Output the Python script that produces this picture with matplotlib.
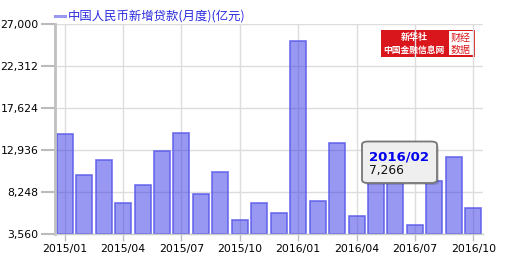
import matplotlib
matplotlib.use("Agg")
import matplotlib.pyplot as plt
from matplotlib.patches import FancyBboxPatch, Rectangle
import numpy as np

# 月度新增贷款 (亿元)
months = ["2015/01", "2015/02", "2015/03", "2015/04", "2015/05", "2015/06",
          "2015/07", "2015/08", "2015/09", "2015/10", "2015/11", "2015/12",
          "2016/01", "2016/02", "2016/03", "2016/04", "2016/05", "2016/06",
          "2016/07", "2016/08", "2016/09", "2016/10"]
values = [14708, 10200, 11800, 7079, 9008, 12800,
          14800, 8096, 10500, 5136, 7089, 5978,
          25100, 7266, 13700, 5556, 9855, 13800,
          4636, 9487, 12200, 6513]
y_ticks = [3560, 8248, 12936, 17624, 22312, 27000]
x_tick_labels = ["2015/01", "2015/04", "2015/07", "2015/10",
                 "2016/01", "2016/04", "2016/07", "2016/10"]
title = "中国人民币新增贷款(月度)(亿元)"
tip_month = "2016/02"

W, H = 506, 257
fig = plt.figure(figsize=(W / 100, H / 100), dpi=100)
fig.patch.set_facecolor("white")


def fx(x):
    return x / W


def fy(y):
    return 1 - y / H


ax = fig.add_axes([fx(55), fy(234.3), fx(483) - fx(55), fy(24) - fy(234.3)])
ymin, ymax = y_ticks[0], y_ticks[-1]
x = np.arange(len(months))
heights = [v - ymin for v in values]
ax.bar(x, heights, bottom=ymin, width=0.82, facecolor=(0.2, 0.2, 0.9, 0.5),
       edgecolor=(0.35, 0.35, 0.92, 0.85), linewidth=1.2, zorder=2)

ax.set_xlim(-0.5, len(months) - 0.5)
ax.set_ylim(ymin, ymax)
ax.set_yticks(y_ticks)
ax.set_yticklabels([f"{v:,}" for v in y_ticks], fontsize=7.8)
ax.set_xticks([months.index(m) for m in x_tick_labels])
ax.set_xticklabels(x_tick_labels, fontsize=7.8)
ax.tick_params(axis="y", length=10, width=1.5, color="#bbbbbb", pad=2)
ax.tick_params(axis="x", length=5, width=1, color="#c0c0c0", pad=2)

ax.set_axisbelow(True)
ax.grid(True, color="#dddddd", linewidth=1)
for s in ["top", "right"]:
    ax.spines[s].set_visible(False)
ax.spines["left"].set_color("#c0c0c0")
ax.spines["left"].set_linewidth(2)
ax.spines["bottom"].set_color("#cccccc")
ax.spines["bottom"].set_linewidth(1)

# 标题图例
fig.add_artist(plt.Line2D([fx(55), fx(65)], [fy(15.7), fy(15.7)],
                          color="#9999ee", linewidth=2.2))
fig.text(fx(68), fy(15.7), title, fontsize=8.9, color="#2b2be0",
         family=["Noto Sans CJK SC", "DejaVu Sans"], va="center", ha="left")

# 新华社 财经数据 标识
logo = Rectangle((fx(381), fy(57)), fx(475) - fx(381), fy(30) - fy(57),
                 transform=fig.transFigure, facecolor="#d9161c",
                 edgecolor="none", zorder=0.3)
ax.add_artist(logo)
box = Rectangle((fx(449), fy(55)), fx(473) - fx(449), fy(31.5) - fy(55),
                transform=fig.transFigure, facecolor="white",
                edgecolor="none", zorder=0.35)
ax.add_artist(box)
cjk = ["Noto Sans CJK SC", "DejaVu Sans"]
fig.text(fx(414), fy(37), "新华社", fontsize=6.5, color="white", style="italic",
         weight="bold", family=cjk, ha="center", va="center")
fig.text(fx(414), fy(50), "中国金融信息网", fontsize=6.3, color="white",
         weight="bold", family=cjk, ha="center", va="center")
fig.text(fx(461), fy(37.5), "财经", fontsize=7.2, color="#d9161c",
         family=cjk, ha="center", va="center")
fig.text(fx(461), fy(49.5), "数据", fontsize=7.2, color="#d9161c",
         family=cjk, ha="center", va="center")

# 提示框
shadow = FancyBboxPatch((fx(364), fy(185)), fx(439) - fx(364), fy(144) - fy(185),
                        boxstyle="round,pad=0,rounding_size=0.012",
                        transform=fig.transFigure, facecolor="#000000",
                        alpha=0.15, edgecolor="none", zorder=5)
fig.add_artist(shadow)
tip = FancyBboxPatch((fx(362), fy(183)), fx(437) - fx(362), fy(141.5) - fy(183),
                     boxstyle="round,pad=0,rounding_size=0.012",
                     transform=fig.transFigure, facecolor="#efefef",
                     edgecolor="#777777", linewidth=1.3, zorder=6)
fig.add_artist(tip)
fig.text(fx(369), fy(157), tip_month, fontsize=9.5, weight="bold",
         color="#0000ee", ha="left", va="center", zorder=7)
fig.text(fx(369), fy(170.5), f"{values[months.index(tip_month)]:,}",
         fontsize=8.8, color="#111111", ha="left", va="center", zorder=7)

fig.savefig("out.png", dpi=100)
